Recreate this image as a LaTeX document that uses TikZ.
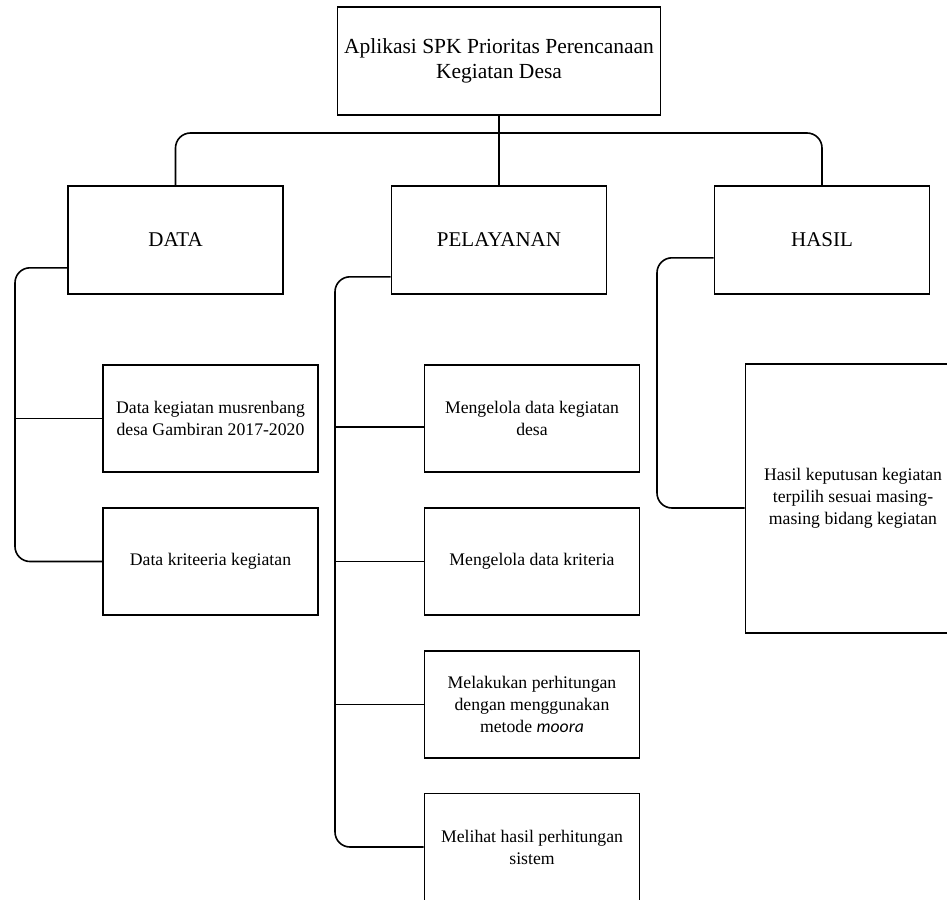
\documentclass[tikz,border=0pt]{standalone}
\usepackage{fontspec}
\setmainfont{Liberation Serif}
\newfontfamily\moorafont{Carlito}
\begin{document}
\begin{tikzpicture}[x=1pt,y=-1pt,
  box/.style={draw=black,line width=1.6pt,rectangle,inner sep=2pt,align=center,text=black},
  topbox/.style={box,minimum width=323pt,minimum height=108pt,font=\fontsize{21.5}{25}\selectfont},
  midbox/.style={box,minimum width=215pt,minimum height=108pt,font=\fontsize{21}{25}\selectfont},
  leafbox/.style={box,minimum width=215pt,minimum height=107pt,font=\fontsize{17.7}{22}\selectfont},
  conn/.style={draw=black,line width=1.6pt,rounded corners=15pt}]
\path[use as bounding box] (0,0) rectangle (947,899);
\clip (0,0) rectangle (947,899);

% nodes
\node[topbox] (root) at (499,61) {Aplikasi SPK Prioritas Perencanaan\\Kegiatan Desa};
\node[midbox] (dat) at (175.5,240) {DATA};
\node[midbox] (pel) at (499,240) {PELAYANAN};
\node[midbox] (has) at (822,240) {HASIL};

\node[leafbox] (dk1) at (210.5,418.5) {Data kegiatan musrenbang\\desa Gambiran 2017-2020};
\node[leafbox] (dk2) at (210.5,561.5) {Data kriteeria kegiatan};

\node[leafbox] (mk1) at (532,418.5) {Mengelola data kegiatan\\desa};
\node[leafbox] (mk2) at (532,561.5) {Mengelola data kriteria};
\node[leafbox] (mk3) at (532,704.5) {Melakukan perhitungan\\dengan menggunakan\\metode {\moorafont\itshape moora}};
\node[leafbox] (mk4) at (532,847) {Melihat hasil perhitungan\\sistem};

\node[leafbox,minimum height=269pt] (hk) at (853,498.5) {Hasil keputusan kegiatan\\terpilih sesuai masing-\\masing bidang kegiatan};

% top connectors
\coordinate (bus) at (499,133);
\draw[conn] (root.south) -- (pel.north);
\draw[conn] (dat.north) |- (bus) -| (has.north);

% DATA branch
\coordinate (dl) at (15,0);
\draw[conn] ([yshift=27pt]dat.south west) -| (dl |- dk2.west) -- (dk2.west);
\draw[conn] (dl |- dk1.west) -- (dk1.west);

% PELAYANAN branch
\coordinate (pl) at (335,0);
\coordinate (m1in) at ([yshift=-8.5pt]mk1.west);
\draw[conn] ([yshift=18pt]pel.south west) -| (pl |- mk4.west) -- (mk4.west);
\draw[conn] (pl |- m1in) -- (m1in);
\draw[conn] (pl |- mk2.west) -- (mk2.west);
\draw[conn] (pl |- mk3.west) -- (mk3.west);

% HASIL branch
\coordinate (hl) at (657,0);
\coordinate (hin) at ([yshift=-9.5pt]hk.west);
\draw[conn] ([yshift=37pt]has.south west) -| (hl |- hin) -- (hin);
\end{tikzpicture}
\end{document}
